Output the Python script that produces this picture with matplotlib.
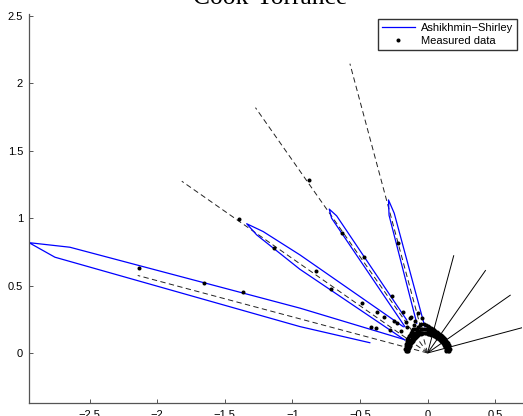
import numpy as np
import matplotlib
matplotlib.use('Agg')
import matplotlib.pyplot as plt

# ---------------- data ----------------
incident_deg = [75, 55, 35, 15]          # incident directions (deg from +x)
incident_len = [0.75, 0.75, 0.75, 0.75]
mirror_deg = [105, 125, 145, 165]         # mirror directions
mirror_len = [2.22, 2.22, 2.22, 2.22]

# Ashikhmin-Shirley lobes, polar vertices (deg, radius)
lobe1_ang = [96.0, 103.4, 104.3, 105.6, 110.0]
lobe1_rad = [0.196, 1.065, 1.171, 1.06, 0.234]
lobe2_ang = [122.3, 123.5, 124.3, 125.4, 130.7]
lobe2_rad = [0.29, 1.219, 1.291, 1.226, 0.257]
lobe3_ang = [132.7, 142.4, 143.5, 144.4, 145.3, 146.7, 150.3]
lobe3_rad = [0.265, 1.19, 1.513, 1.646, 1.538, 1.13, 0.193]
lobe4_ang = [150.0, 160.6, 163.5, 164.5, 165.56, 168.3, 169.9]
lobe4_rad = [0.20, 1.00, 2.76, 3.06, 2.847, 0.964, 0.434]

# measured data: scattered points along the lobes (x, y)
meas_x = [-2.135, -1.653, -1.364, -1.393, -1.135, -0.876, -0.632, -0.826,
          -0.717, -0.469, -0.222, -0.266, -0.483, -0.373, -0.321, -0.18,
          -0.422, -0.382, -0.225, -0.044, -0.131, -0.16, -0.28, -0.10,
          -0.20, -0.12, -0.07, -0.25, -0.15, -0.09]
meas_y = [0.633, 0.522, 0.455, 0.992, 0.777, 1.283, 0.892, 0.611,
          0.475, 0.714, 0.814, 0.425, 0.373, 0.302, 0.269, 0.306,
          0.195, 0.183, 0.22, 0.257, 0.257, 0.23, 0.17, 0.21,
          0.16, 0.27, 0.30, 0.24, 0.19, 0.24]

# measured data: near-diffuse arc around the origin (deg, radius)
arc_ang = [6, 10, 14, 18, 22, 26, 30, 34, 38, 42, 46, 50, 54, 58, 62, 66,
           70, 74, 78, 82, 86, 90, 94, 98, 102, 106, 110, 114, 118, 122,
           126, 130, 134, 138, 142, 146, 150, 154, 158, 162, 166, 170, 174]
arc_r_in = [0.140, 0.141, 0.140, 0.139, 0.138, 0.138, 0.137, 0.137, 0.136,
            0.136, 0.136, 0.135, 0.135, 0.135, 0.136, 0.136, 0.137, 0.138,
            0.139, 0.140, 0.142, 0.144, 0.147, 0.150, 0.153, 0.155, 0.153,
            0.150, 0.147, 0.145, 0.144, 0.143, 0.142, 0.141, 0.141, 0.141,
            0.142, 0.143, 0.143, 0.144, 0.145, 0.145, 0.145]
arc_r_mid = [0.152, 0.154, 0.154, 0.153, 0.152, 0.151, 0.150, 0.149, 0.149,
             0.148, 0.148, 0.148, 0.148, 0.149, 0.150, 0.151, 0.153, 0.155,
             0.158, 0.162, 0.166, 0.170, 0.175, 0.180, 0.185, 0.182, 0.176,
             0.172, 0.172, 0.175, 0.172, 0.166, 0.162, 0.160, 0.160, 0.158,
             0.156, 0.156, 0.155, 0.155, 0.155, 0.155, 0.153]
arc_r_out = [0.163, 0.166, 0.167, 0.167, 0.167, 0.166, 0.165, 0.164, 0.164,
             0.164, 0.163, 0.163, 0.163, 0.164, 0.165, 0.167, 0.170, 0.174,
             0.179, 0.185, 0.192, 0.198, 0.206, 0.216, 0.222, 0.212, 0.202,
             0.197, 0.202, 0.208, 0.202, 0.192, 0.186, 0.183, 0.185, 0.180,
             0.175, 0.172, 0.169, 0.168, 0.167, 0.166, 0.163]

x_ticks = [-2.5, -2, -1.5, -1, -0.5, 0, 0.5]
y_ticks = [0, 0.5, 1, 1.5, 2, 2.5]
x_labels = ['\u22122.5', '\u22122', '\u22121.5', '\u22121', '\u22120.5', '0', '0.5']
y_labels = ['0', '0.5', '1', '1.5', '2', '2.5']

# ---------------- plot ----------------
W, H = 523, 416
fig = plt.figure(figsize=(W / 100, H / 100), dpi=100)
ax_l, ax_r, ax_b, ax_t = 28.7, 522.2, 403.3, 13.7
ax = fig.add_axes([ax_l / W, 1 - ax_b / H, (ax_r - ax_l) / W, (ax_b - ax_t) / H])

def polar(ang, rad):
    a = np.deg2rad(np.asarray(ang, float))
    r = np.asarray(rad, float)
    return r * np.cos(a), r * np.sin(a)

# incident directions
for a, L in zip(incident_deg, incident_len):
    x, y = polar([a, a], [0, L])
    ax.plot(x, y, color='black', lw=0.7, solid_capstyle='butt')
# mirror directions (dashed)
for a, L in zip(mirror_deg, mirror_len):
    x, y = polar([a, a], [0, L])
    ax.plot(x, y, color='#222222', lw=0.7, ls=(0, (5.5, 3.5)))

lobes = [(lobe1_ang, lobe1_rad), (lobe2_ang, lobe2_rad),
         (lobe3_ang, lobe3_rad), (lobe4_ang, lobe4_rad)]
for i, (la, lr) in enumerate(lobes):
    x, y = polar(la, lr)
    ax.plot(x, y, color='#0000ff', lw=0.9,
            label='Ashikhmin\u2212Shirley' if i == 0 else None)

ix, iy = polar(arc_ang, arc_r_in)
mx, my = polar(arc_ang, arc_r_mid)
ox, oy = polar(arc_ang, arc_r_out)
ms = 2.9
ax.plot(np.concatenate([ix, mx, ox, meas_x]), np.concatenate([iy, my, oy, meas_y]),
        ls='none', marker='o', ms=ms, mfc='black', mec='black', mew=0,
        label='Measured data')

ax.set_xlim(-2.951, 0.70)
ax.set_ylim(-0.373, 2.515)
ax.set_xticks(x_ticks)
ax.set_xticklabels(x_labels)
ax.set_yticks(y_ticks)
ax.set_yticklabels(y_labels)
for s in ['top', 'right']:
    ax.spines[s].set_visible(False)
for s in ['left', 'bottom']:
    ax.spines[s].set_color('#555555')
    ax.spines[s].set_linewidth(0.9)
ax.tick_params(direction='in', length=3, width=0.7, color='#555555',
               labelsize=8, pad=4, labelcolor='black')
ax.tick_params(axis='x', pad=4.5)
for lab in ax.get_xticklabels() + ax.get_yticklabels():
    lab.set_family('Liberation Sans')

leg = ax.legend(loc='upper right',
                bbox_to_anchor=((516.7 - ax_l) / (ax_r - ax_l), 1.0 - (19 - ax_t) / (ax_b - ax_t)),
                prop={'family': 'Liberation Sans', 'size': 8},
                frameon=True, fancybox=False, edgecolor='black',
                borderpad=0.35, handlelength=3.0, handletextpad=0.5,
                labelspacing=0.25, borderaxespad=0)
leg.get_frame().set_linewidth(1.0)

fig.text(270 / W, 1 - 3.5 / H, 'Cook-Torrance', ha='center', va='baseline',
         family='Liberation Serif', fontsize=18.4)

fig.savefig('out.png', dpi=100)
